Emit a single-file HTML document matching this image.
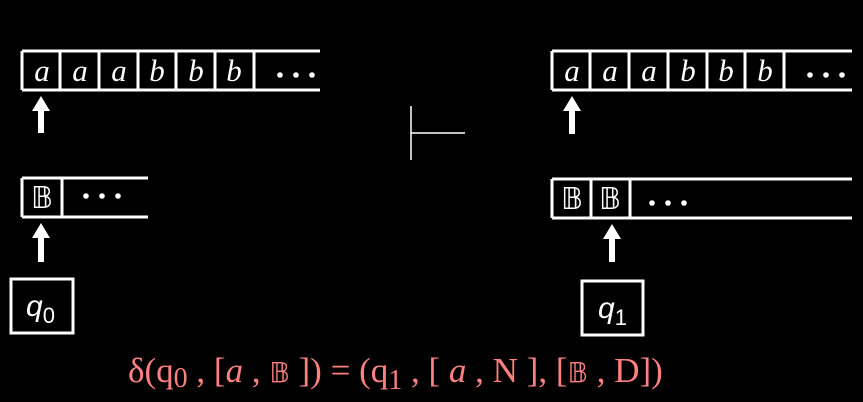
<!DOCTYPE html>
<html><head><style>
html,body{margin:0;padding:0;background:#000;width:863px;height:402px;overflow:hidden}
svg{display:block}
.s{font-family:"Liberation Serif",serif;font-style:italic;fill:#fff;font-size:31px}
.f{font-family:"Liberation Serif",serif;fill:#ff8080;font-size:35px}
</style></head><body>
<svg width="863" height="402">
<g stroke="#fff" stroke-width="3" fill="none">
 <g>
  <path d="M22,51H320M22,90H320M22,51V90M60,51V90M99,51V90M138,51V90M176,51V90M215,51V90M254,51V90"/>
 </g>
 <g>
  <path d="M22,178H148M22,217H148M22,178V217M62,178V217"/>
 </g>
 <rect x="11" y="279" width="62" height="54"/>
 <g>
  <path d="M552,51H852M552,90H852M552,51V90M590,51V90M629,51V90M668,51V90M707,51V90M745,51V90M784,51V90"/>
 </g>
 <g>
  <path d="M552,179H852M552,218H852M552,179V218M591,179V218M630,179V218"/>
 </g>
 <rect x="582" y="281" width="61" height="54"/>
 <path d="M411,106V160M411,133H465" stroke-width="1.5"/>
</g>
<g fill="#fff">
 <path d="M41,96L50,111H44V133H38V111H32Z"/>
 <path d="M41,223L50,238H44V262H38V238H32Z"/>
 <path d="M572,96L581,111H575V134H569V111H563Z"/>
 <path d="M612,224L621,239H615V262H609V239H603Z"/>
 <g>
  <circle cx="280" cy="75" r="2.8"/><circle cx="296" cy="75" r="2.8"/><circle cx="312" cy="75" r="2.8"/>
  <circle cx="810" cy="75" r="2.8"/><circle cx="826" cy="75" r="2.8"/><circle cx="842" cy="75" r="2.8"/>
  <circle cx="86" cy="196" r="2.8"/><circle cx="102" cy="196" r="2.8"/><circle cx="118" cy="196" r="2.8"/>
  <circle cx="652" cy="203" r="2.8"/><circle cx="668" cy="203" r="2.8"/><circle cx="684" cy="203" r="2.8"/>
 </g>
</g>
<g class="s" text-anchor="middle">
 <text x="42" y="81">a</text><text x="80" y="81">a</text><text x="119" y="81">a</text>
 <text x="157" y="81">b</text><text x="196" y="81">b</text><text x="234" y="81">b</text>
 <text x="572" y="81">a</text><text x="610" y="81">a</text><text x="649" y="81">a</text>
 <text x="688" y="81">b</text><text x="726" y="81">b</text><text x="765" y="81">b</text>
</g>
<g font-family="'DejaVu Sans',sans-serif" font-size="30" fill="#fff" text-anchor="middle">
 <text x="42" y="208">𝔹</text><text x="572" y="209">𝔹</text><text x="610" y="209">𝔹</text>
</g>
<text x="26" y="316" font-family="'Liberation Sans',sans-serif" font-style="italic" font-size="30" fill="#fff">q<tspan font-style="normal" font-size="22" dy="7">0</tspan></text>
<text x="598" y="318" font-family="'Liberation Sans',sans-serif" font-style="italic" font-size="30" fill="#fff">q<tspan font-style="normal" font-size="22" dy="7">1</tspan></text>
<text x="128" y="382" class="f">δ(q<tspan font-size="28" dy="5">0</tspan><tspan dy="-5"> , [</tspan><tspan font-style="italic">a</tspan> , <tspan font-family="'DejaVu Sans',sans-serif" font-size="28">𝔹</tspan> ]) = (q<tspan font-size="28" dy="7">1</tspan><tspan dy="-7"> , [ </tspan><tspan font-style="italic">a</tspan> , N ], [<tspan font-family="'DejaVu Sans',sans-serif" font-size="28">𝔹</tspan> , D])</text>
</svg>
</body></html>
